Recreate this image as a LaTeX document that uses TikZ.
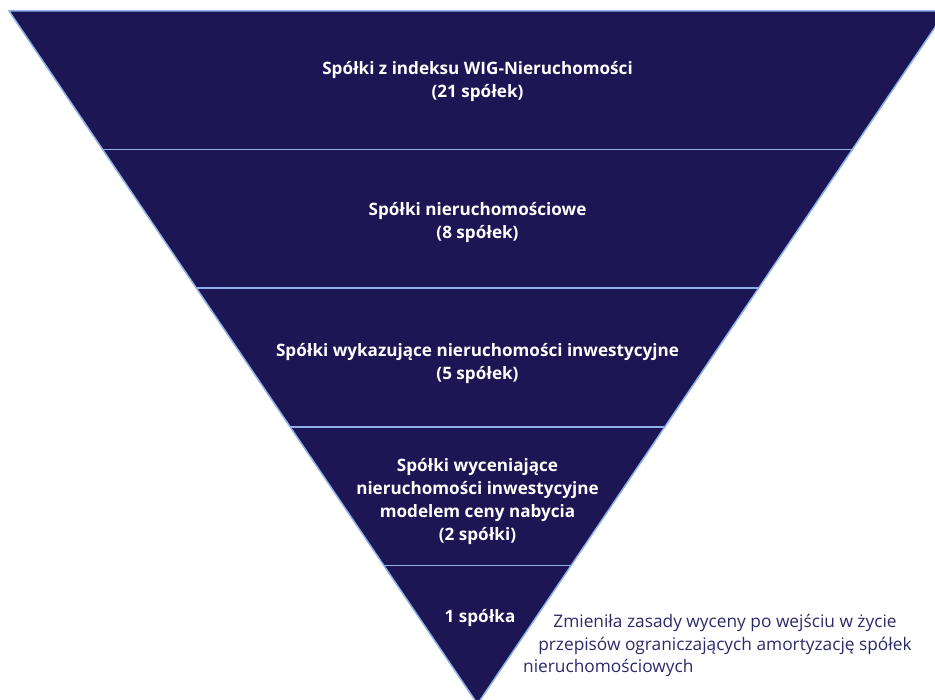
\documentclass[tikz,border=0pt]{standalone}
\usepackage{fontspec}
\setmainfont{Open Sans}
\usetikzlibrary{calc}
\definecolor{navy}{HTML}{1C1654}
\definecolor{edgeblue}{HTML}{8FB0E8}
\definecolor{notecol}{HTML}{2B2A6B}
\tikzset{
  band/.style={fill=navy, draw=edgeblue, line width=1.5pt, line join=miter},
  divider/.style={draw=edgeblue, line width=1.5pt},
  bandtext/.style={text=white, font=\bfseries\fontsize{17.1}{23}\selectfont, align=center, inner sep=0pt},
  notetext/.style={text=notecol, font=\fontsize{17.3}{22}\selectfont, inner sep=0pt, anchor=base}
}
\begin{document}
\begin{tikzpicture}[x=1pt,y=-1pt]
\useasboundingbox (0,0) rectangle (935,700);
\begin{scope}
\clip (0,0) rectangle (935,700);
\coordinate (A) at (9,11);
\coordinate (B) at (946,11);
\coordinate (C) at (477.5,704);
\filldraw[band] (A) -- (B) -- (C) -- cycle;
\foreach \i/\f in {1/0.2,2/0.4,3/0.6,4/0.8}{
  \coordinate (l\i) at ($(A)!\f!(C)$);
  \coordinate (r\i) at ($(B)!\f!(C)$);
  \draw[divider] (l\i) -- (r\i);
}
\end{scope}
\node[bandtext] (t1) at (477.5,81.5) {Spółki z indeksu WIG-Nieruchomości\\(21 spółek)};
\node[bandtext] (t2) at (477.5,223) {Spółki nieruchomościowe\\(8 spółek)};
\node[bandtext] (t3) at (477.5,364) {Spółki wykazujące nieruchomości inwestycyjne\\(5 spółek)};
\node[bandtext] (t4) at (477.5,502) {Spółki wyceniające\\nieruchomości inwestycyjne\\modelem ceny nabycia\\(2 spółki)};
\node[bandtext] (t5) at (480,618) {1 spółka};
\node[notetext] (n1) at (725,627) {Zmieniła zasady wyceny po wejściu w życie};
\node[notetext] (n2) at (725,650) {przepisów ograniczających amortyzację spółek};
\node[notetext, anchor=base west] (n3) at (523,672) {nieruchomościowych};
\end{tikzpicture}
\end{document}
